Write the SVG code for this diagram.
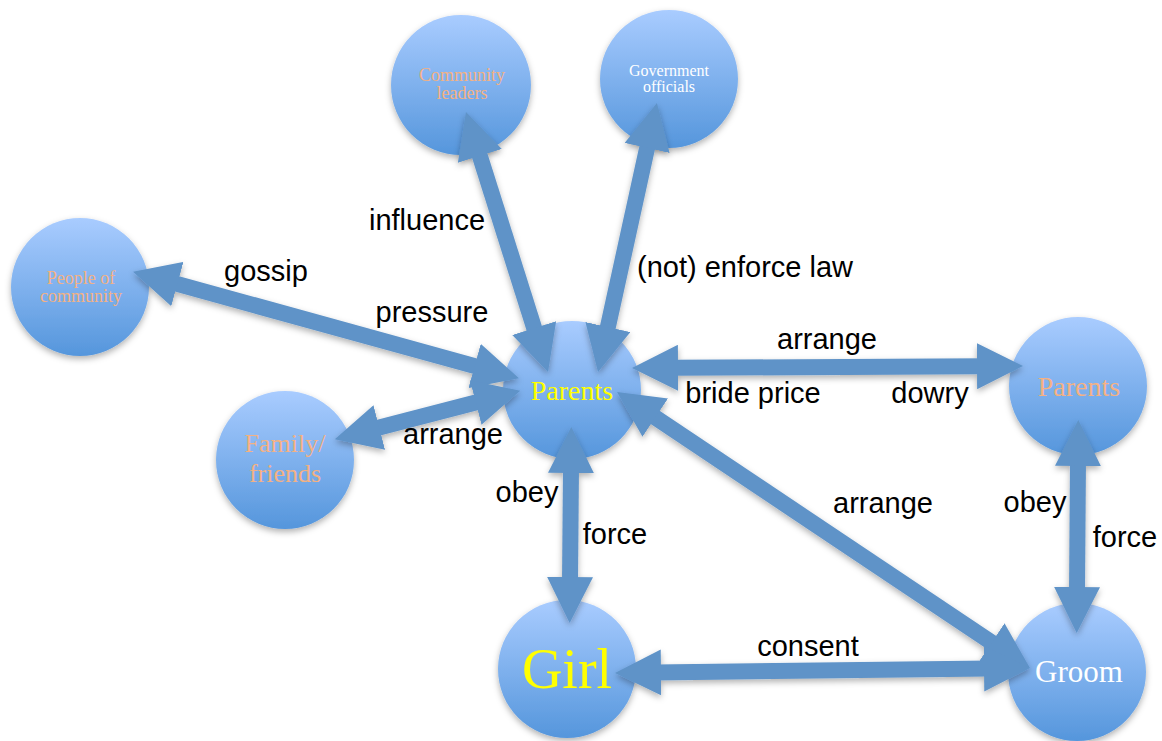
<svg xmlns="http://www.w3.org/2000/svg" width="1162" height="741" viewBox="0 0 1162 741">
<style>
.node{fill:url(#g);filter:url(#sh)}
.nt{font-family:"Liberation Serif","Times New Roman",serif;text-anchor:middle}
.peach{fill:#f4b183}
.white{fill:#ffffff}
.yellow{fill:#ffff00}
.lbl{font-family:"Liberation Sans",Arial,sans-serif;font-size:29px;fill:#000;text-anchor:middle}
.arr{stroke:#5f93c8;stroke-width:16;fill:none;marker-start:url(#ah);marker-end:url(#ah)}
</style>
<defs>
<linearGradient id="g" x1="0" y1="0" x2="0" y2="1">
<stop offset="0" stop-color="#a9ccff"/>
<stop offset="1" stop-color="#5596dc"/>
</linearGradient>
<filter id="sh" x="-30%" y="-30%" width="160%" height="160%">
<feDropShadow dx="0" dy="3" stdDeviation="3" flood-color="#000" flood-opacity="0.3"/>
</filter>
<marker id="ah" viewBox="0 0 46 46" refX="6" refY="23" markerWidth="46" markerHeight="46" markerUnits="userSpaceOnUse" orient="auto-start-reverse">
<path d="M0,0 L46,23 L0,46 Z" fill="#5f93c8"/>
</marker>
</defs>
<rect width="1162" height="741" fill="#ffffff"/>
<g id="community-leaders"><circle class="node" cx="461" cy="85" r="70"/><text class="nt peach" font-size="18"><tspan x="462" y="81">Community</tspan><tspan x="462" y="99">leaders</tspan></text></g>
<g id="government-officials"><circle class="node" cx="669" cy="79" r="69"/><text class="nt white" font-size="16"><tspan x="669" y="76">Government</tspan><tspan x="669" y="92">officials</tspan></text></g>
<g id="people-of-community"><circle class="node" cx="80" cy="287" r="69"/><text class="nt peach" font-size="18"><tspan x="81" y="284">People of</tspan><tspan x="81" y="302">community</tspan></text></g>
<g id="family-friends"><circle class="node" cx="285" cy="460" r="69"/><text class="nt peach" font-size="26"><tspan x="285" y="452">Family/</tspan><tspan x="285" y="482">friends</tspan></text></g>
<g id="parents-girl"><circle class="node" cx="572" cy="390" r="69"/><text class="nt yellow" font-size="28" x="572" y="400">Parents</text></g>
<g id="parents-groom"><circle class="node" cx="1078" cy="386" r="69"/><text class="nt peach" font-size="28" x="1079" y="396">Parents</text></g>
<g id="girl"><circle class="node" cx="567" cy="669" r="69"/><text class="nt yellow" font-size="56" x="567" y="688">Girl</text></g>
<g id="groom"><circle class="node" cx="1077" cy="672" r="69"/><text class="nt white" font-size="31" x="1079" y="682">Groom</text></g>
<g id="connectors" filter="url(#sh)">
<line class="arr" x1="536.0" y1="333.8" x2="478.0" y2="150.2"/>
<line class="arr" x1="606.6" y1="332.9" x2="648.4" y2="142.1"/>
<line class="arr" x1="480.4" y1="367.6" x2="171.6" y2="282.4"/>
<line class="arr" x1="481.5" y1="400.9" x2="373.5" y2="429.1"/>
<line class="arr" x1="672" y1="367.8" x2="983" y2="366.2"/>
<line class="arr" x1="571" y1="467" x2="570" y2="583"/>
<line class="arr" x1="650.3" y1="414.2" x2="996.7" y2="645.8"/>
<line class="arr" x1="655" y1="672.5" x2="990" y2="668.5"/>
<line class="arr" x1="1078" y1="460" x2="1077" y2="593"/>
</g>
<g id="labels">
<text class="lbl" x="427" y="230">influence</text>
<text class="lbl" x="432" y="322">pressure</text>
<text class="lbl" x="266" y="281">gossip</text>
<text class="lbl" x="745" y="277">(not) enforce law</text>
<text class="lbl" x="827" y="349">arrange</text>
<text class="lbl" x="753" y="403">bride price</text>
<text class="lbl" x="930" y="403">dowry</text>
<text class="lbl" x="453" y="444">arrange</text>
<text class="lbl" x="527" y="502">obey</text>
<text class="lbl" x="615" y="544">force</text>
<text class="lbl" x="883" y="513">arrange</text>
<text class="lbl" x="1035" y="512">obey</text>
<text class="lbl" x="1125" y="547">force</text>
<text class="lbl" x="808" y="656">consent</text>
</g>
</svg>
